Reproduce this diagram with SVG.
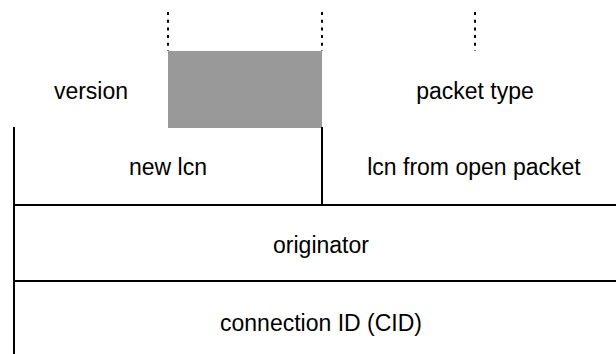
<svg xmlns="http://www.w3.org/2000/svg" width="616" height="354" viewBox="0 0 616 354">
  <style>
    .lbl { font-family: "Liberation Sans", Arial, sans-serif; font-size: 23px; fill: #000; text-anchor: middle; }
    .ln { stroke: #000; stroke-width: 2; fill: none; }
    .dash { stroke: #000; stroke-width: 2; stroke-dasharray: 3 4.7; fill: none; }
  </style>
  <rect width="616" height="354" fill="#fff"/>
  <g id="version">
    <text class="lbl" x="91" y="99">version</text>
  </g>
  <g id="reserved">
    <rect x="168" y="51" width="154" height="77" fill="#999999"/>
  </g>
  <g id="packet-type">
    <text class="lbl" x="475" y="99">packet type</text>
  </g>
  <g id="new-lcn">
    <text class="lbl" x="168" y="175">new lcn</text>
  </g>
  <g id="lcn-from-open-packet">
    <text class="lbl" x="474" y="175">lcn from open packet</text>
  </g>
  <g id="originator">
    <text class="lbl" x="321" y="253">originator</text>
  </g>
  <g id="connection-id">
    <text class="lbl" x="321" y="331">connection ID (CID)</text>
  </g>
  <g id="connectors">
    <line class="dash" x1="168" y1="12" x2="168" y2="51"/>
    <line class="dash" x1="322" y1="12" x2="322" y2="51"/>
    <line class="dash" x1="475" y1="12" x2="475" y2="51"/>
    <line class="ln" x1="14" y1="127" x2="14" y2="354"/>
    <line class="ln" x1="322" y1="127" x2="322" y2="205"/>
    <line class="ln" x1="13" y1="205" x2="616" y2="205"/>
    <line class="ln" x1="13" y1="281" x2="616" y2="281"/>
  </g>
</svg>
